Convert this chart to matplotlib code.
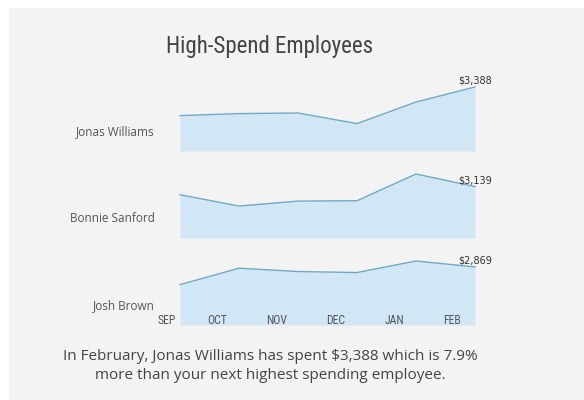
import matplotlib
matplotlib.use("Agg")
import matplotlib.pyplot as plt
from matplotlib.patches import Rectangle
import matplotlib.transforms as mtransforms

# data
months = ["SEP", "OCT", "NOV", "DEC", "JAN", "FEB"]
names = ["Jonas Williams", "Bonnie Sanford", "Josh Brown"]
jonas = [1874, 1980, 2012, 1451, 2594, 3388]
bonnie = [2638, 1950, 2252, 2276, 3906, 3139]
josh = [1994, 2806, 2641, 2592, 3161, 2869]
series = [jonas, bonnie, josh]
title = "High-Spend Employees"
note = ("In February, Jonas Williams has spent $3,388 which is 7.9%\n"
        "more than your next highest spending employee.")

W, H = 584, 400
fill_col = "#d2e7f6"
line_col = "#6fa9c6"
text_col = "#555555"
narrow = ["Roboto Condensed", "Fira Sans Condensed", "DejaVu Sans"]
body = ["Open Sans", "DejaVu Sans"]

fig = plt.figure(figsize=(W / 100, H / 100), dpi=100)
fig.patch.set_facecolor("white")
fig.patches.append(Rectangle((9 / W, 0), 1 - 9 / W, (H - 8) / H,
                             transform=fig.transFigure, facecolor="#f3f3f3",
                             edgecolor="none", zorder=-5))

fig.text(270 / W, 1 - 46 / H, title, ha="center", va="center",
         fontsize=16.5, color="#444444", family=narrow)

baselines = [151, 238, 325]
x = list(range(len(months)))
for i, (name, vals) in enumerate(zip(names, series)):
    ax = fig.add_axes([180 / W, 1 - baselines[i] / H, 295 / W, 64 / H])
    ax.set_facecolor("none")
    ax.fill_between(x, vals, 0, color=fill_col, lw=0)
    ax.plot(x, vals, color=line_col, lw=1, clip_on=False)
    ax.set_xlim(0, len(months) - 1)
    ax.set_ylim(0, max(vals))
    ax.axis("off")
    ax.annotate(f"${vals[-1]:,}", (x[-1], vals[-1]), xytext=(0, 1),
                textcoords="offset points", ha="center", va="bottom",
                fontsize=7, color="#333333", annotation_clip=False)
    fig.text(155 / W, 1 - (baselines[i] - 19) / H, name, ha="right",
             va="center", fontsize=8.5, color=text_col, family=body)
    if i == len(names) - 1:
        tr = mtransforms.blended_transform_factory(ax.transData, ax.transAxes)
        tick_pos = [-0.22, 0.63, 1.64, 2.64, 3.64, 4.61]
        for p, m in zip(tick_pos, months):
            ax.text(p, 0.07, m, transform=tr, ha="center", va="center",
                    fontsize=8.5, color=text_col, family=narrow, clip_on=False)

fig.text(270 / W, 1 - 366 / H, note, ha="center", va="center",
         fontsize=11, color="#444444", family=body, linespacing=1.35)

fig.savefig("out.png", dpi=100)
